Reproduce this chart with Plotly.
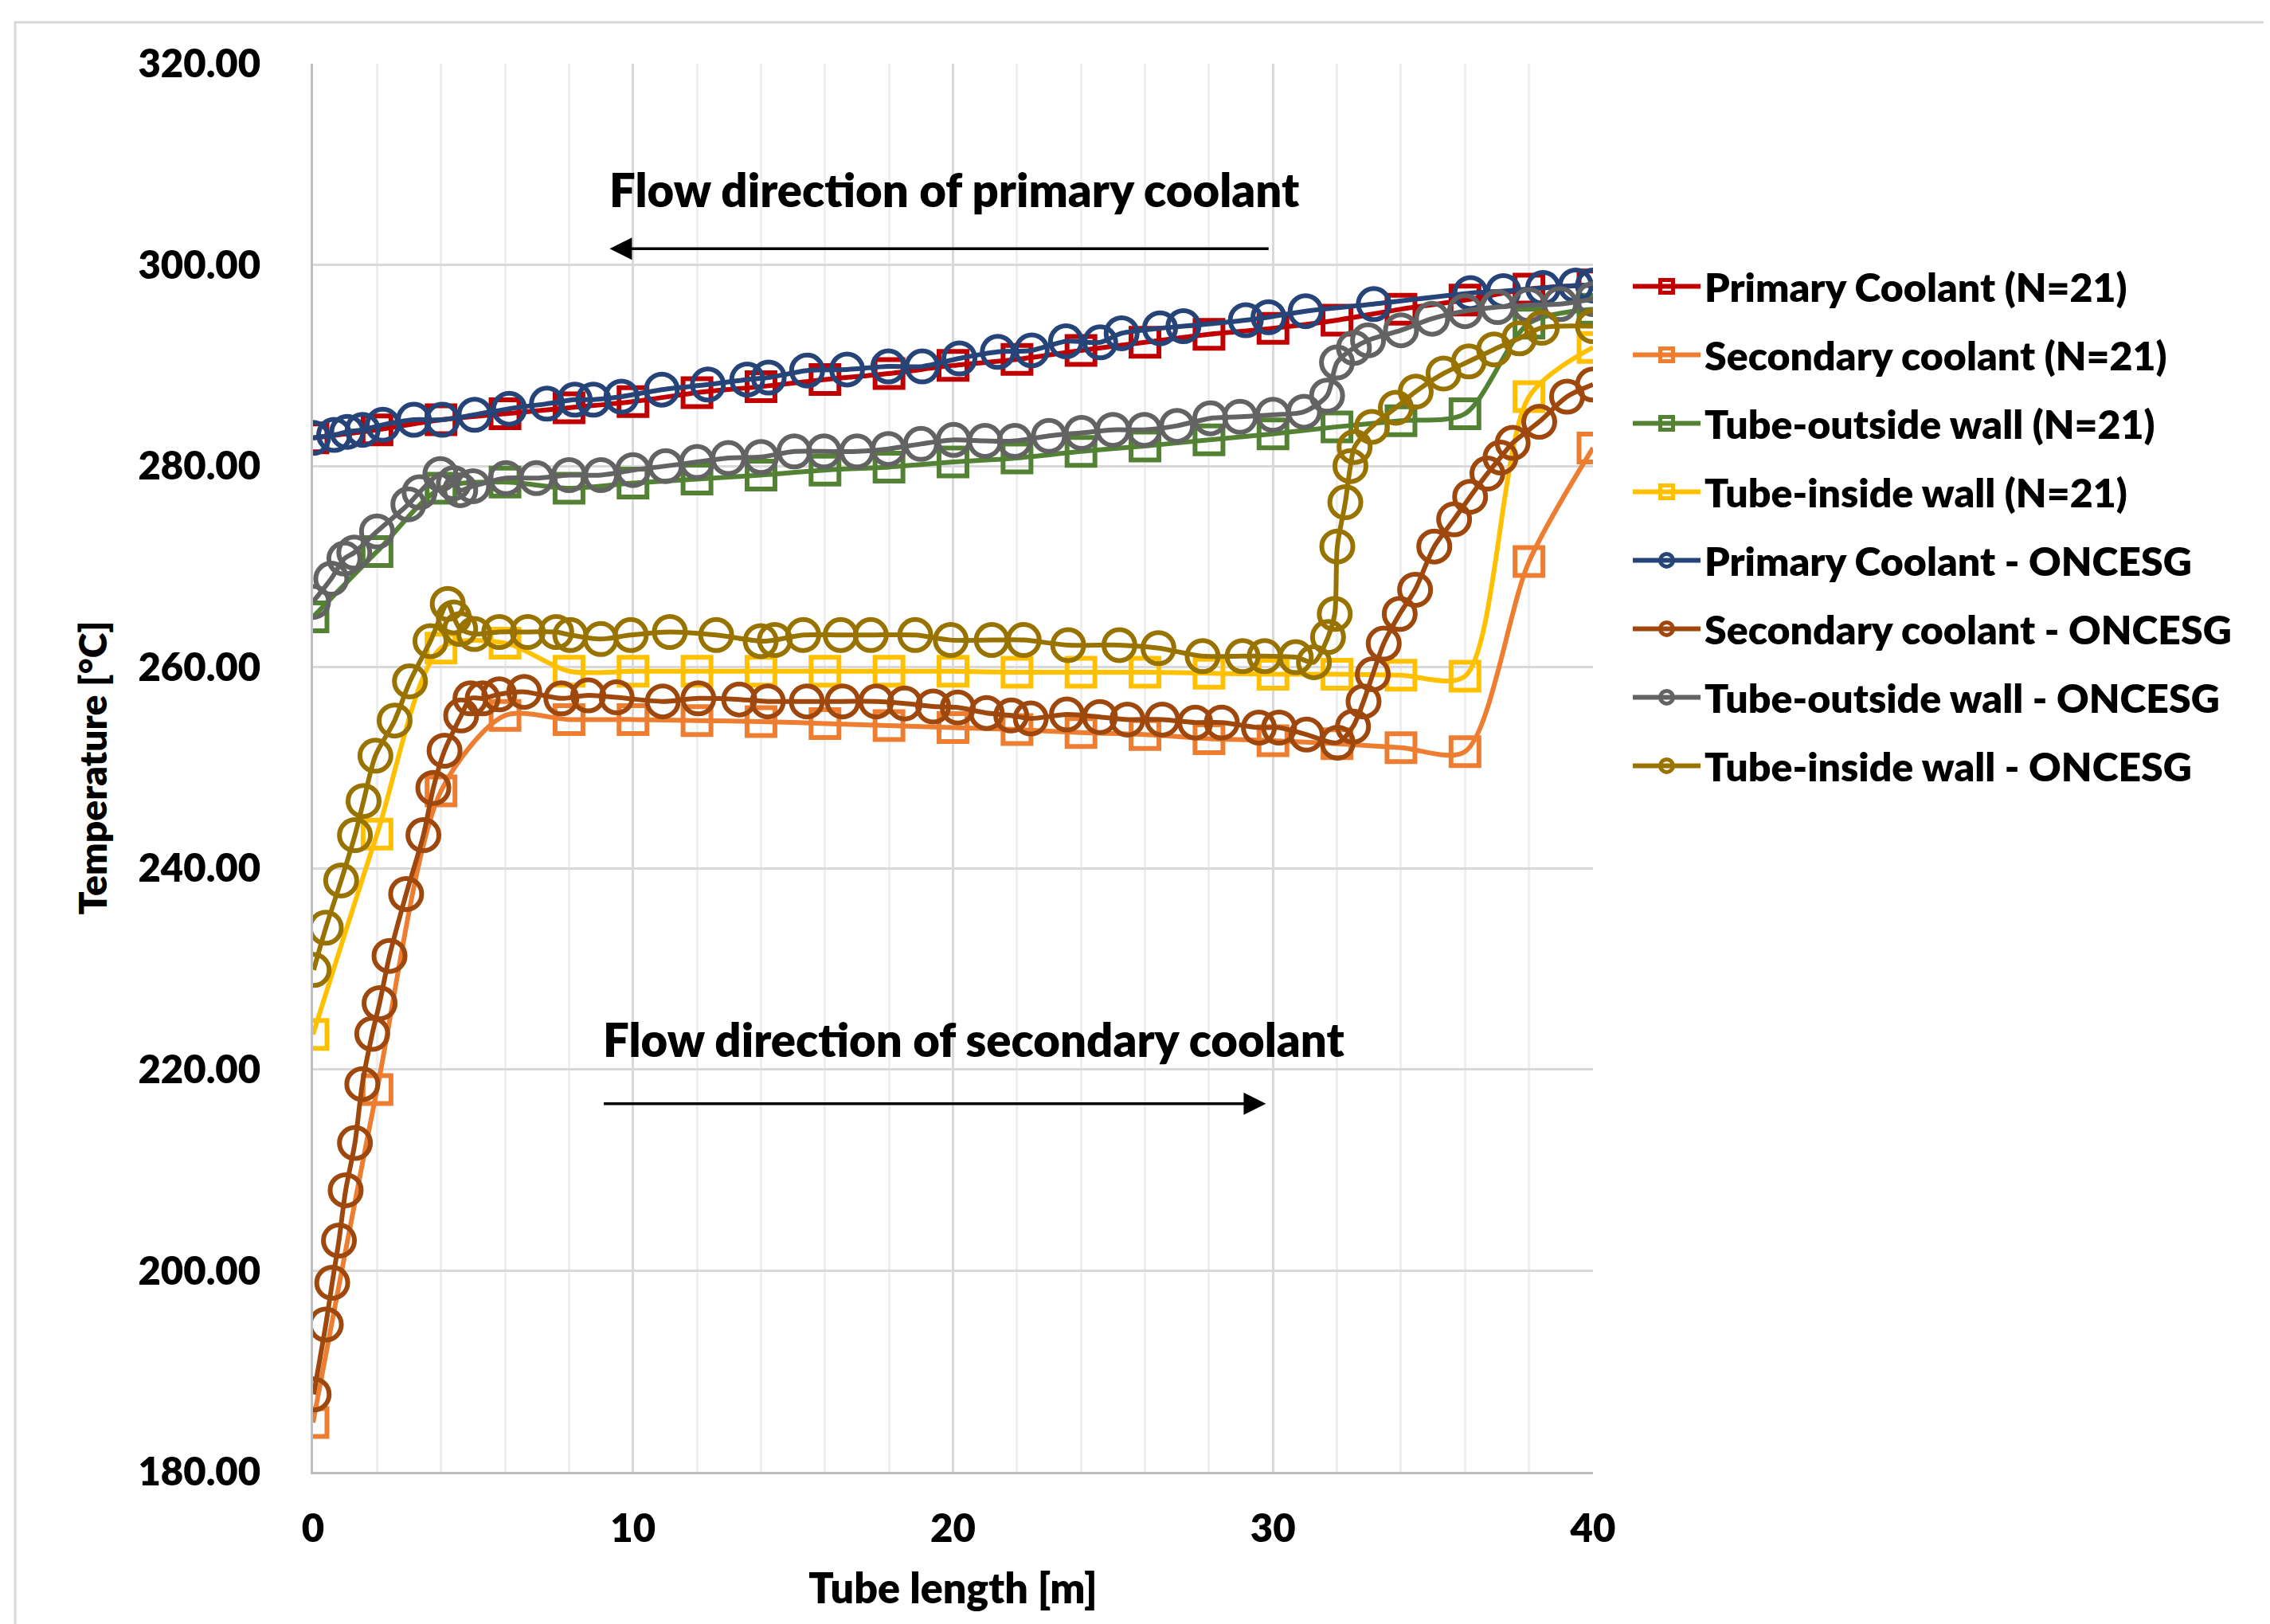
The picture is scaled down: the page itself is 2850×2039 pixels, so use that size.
import plotly.graph_objects as go

# ---------------- data ----------------
x_n21 = [0, 2, 4, 6, 8, 10, 12, 14, 16, 18, 20, 22, 24, 26, 28, 30, 32, 34, 36, 38, 40]
primary_n21 = [282.8, 283.6, 284.6, 285.2, 285.8, 286.4, 287.3, 287.9, 288.6, 289.2, 290.0,
               290.6, 291.5, 292.3, 293.1, 293.7, 294.5, 295.6, 296.5, 297.6, 298.0]
secondary_n21 = [184.9, 218.0, 247.7, 255.2, 254.8, 254.8, 254.7, 254.6, 254.4, 254.2, 254.0,
                 253.8, 253.5, 253.3, 252.9, 252.7, 252.4, 252.0, 251.6, 270.5, 281.8]
outer_n21 = [265.0, 271.5, 277.8, 278.4, 277.8, 278.3, 278.7, 279.1, 279.6, 279.9, 280.4,
             280.8, 281.45, 282.0, 282.6, 283.2, 283.9, 284.5, 285.2, 294.2, 295.6]
inner_n21 = [223.5, 243.4, 261.9, 262.4, 259.6, 259.6, 259.6, 259.6, 259.6, 259.6, 259.6,
             259.5, 259.5, 259.5, 259.4, 259.3, 259.3, 259.2, 259.1, 286.9, 291.8]

x_primary_onc = [0, 0.66, 1.07, 1.55, 2.18, 3.15, 4.04, 5.05, 6.13, 7.31, 8.18, 8.76, 9.64, 10.9,
                 12.34, 13.57, 14.24, 15.44, 16.69, 17.98, 19.04, 20.2, 21.4, 22.46, 23.53, 24.6,
                 25.27, 26.47, 27.2, 29.15, 29.86, 31.02, 33.15, 36.17, 37.2, 38.44, 39.46, 40.0]
primary_onc = [282.8, 283.1, 283.4, 283.6, 284.1, 284.6, 284.6, 285.1, 285.7, 286.2, 286.6, 286.6,
               286.9, 287.6, 288.1, 288.6, 288.8, 289.5, 289.6, 289.9, 289.9, 290.7, 291.35, 291.5,
               292.4, 292.3, 293.2, 293.7, 293.9, 294.5, 294.8, 295.4, 296.1, 297.2, 297.4, 297.7,
               297.95, 297.95]

x_secondary_onc = [0.02, 0.40, 0.6, 0.81, 1.02, 1.31, 1.54, 1.85, 2.08, 2.39, 2.91, 3.45, 3.76,
                   4.11, 4.63, 4.92, 5.3, 5.82, 6.6, 7.76, 8.6, 9.49, 10.93, 12.04, 13.32, 14.21,
                   15.43, 16.55, 17.6, 18.49, 19.38, 20.15, 21.05, 21.82, 22.43, 23.56, 24.59,
                   25.45, 26.54, 27.57, 28.4, 29.56, 30.19, 31.05, 32.02, 32.5, 32.83, 33.12,
                   33.46, 33.96, 34.44, 35.04, 35.66, 36.16, 36.7, 37.11, 37.49, 38.32, 39.19, 40.0]
secondary_onc = [187.7, 194.65, 198.8, 203.0, 208.0, 212.7, 218.55, 223.55, 226.6, 231.3, 237.45,
                 243.3, 248.0, 251.7, 255.2, 256.9, 256.9, 257.3, 257.55, 256.9, 257.2, 257.0,
                 256.6, 256.9, 256.8, 256.6, 256.6, 256.6, 256.6, 256.4, 256.1, 256.0, 255.45,
                 255.2, 254.9, 255.3, 255.05, 254.8, 254.8, 254.5, 254.5, 254.0, 254.0, 253.3,
                 252.5, 254.1, 256.6, 259.3, 262.35, 265.3, 267.7, 272.0, 274.7, 276.95, 279.25,
                 280.85, 282.3, 284.4, 286.9, 288.1]

x_outer_onc = [0, 0.57, 0.98, 1.29, 2.0, 2.98, 3.33, 3.98, 4.4, 4.6, 5.0, 6.03, 6.98, 8.0, 9.0,
               10.0, 11.02, 12.0, 12.98, 14.0, 15.04, 15.97, 17.0, 17.98, 19.0, 20.02, 21.0, 21.93,
               23.0, 24.02, 25.0, 25.98, 27.0, 28.04, 28.97, 30.0, 30.97, 31.69, 32.0, 32.53,
               32.97, 34.0, 34.97, 36.0, 37.02, 38.0, 38.97, 40.0]
outer_onc = [266.5, 268.8, 270.8, 271.4, 273.5, 276.2, 277.4, 279.2, 278.3, 277.6, 278.0, 278.8,
             278.8, 279.1, 279.1, 279.6, 280.0, 280.4, 280.8, 280.9, 281.45, 281.45, 281.45,
             281.7, 282.2, 282.6, 282.5, 282.5, 283.0, 283.3, 283.6, 283.6, 284.0, 284.75, 284.9,
             285.1, 285.4, 287.0, 290.3, 291.75, 292.5, 293.5, 294.65, 295.4, 295.8, 296.0,
             296.1, 296.6]

x_inner_onc = [0.02, 0.4, 0.88, 1.31, 1.58, 1.95, 2.55, 3.03, 3.67, 4.21, 4.4, 4.6, 5.04, 5.82,
               6.71, 7.6, 8.04, 8.99, 9.93, 11.15, 12.6, 13.99, 14.43, 15.32, 16.49, 17.43, 18.82,
               19.93, 21.21, 22.21, 23.6, 25.2, 26.42, 27.8, 29.05, 29.74, 30.71, 31.28, 31.72,
               31.93, 32.01, 32.26, 32.42, 32.55, 33.09, 33.84, 34.46, 35.33, 36.12, 36.91, 37.7,
               38.4, 40.0]
inner_onc = [229.9, 234.1, 238.8, 243.3, 246.7, 251.2, 254.7, 258.6, 262.6, 266.3, 264.95, 263.8,
             263.3, 263.5, 263.5, 263.5, 263.2, 262.8, 263.2, 263.5, 263.2, 262.6, 262.7, 263.2,
             263.2, 263.2, 263.2, 262.7, 262.7, 262.7, 262.2, 262.2, 261.9, 261.1, 261.1, 261.1,
             261.0, 260.5, 263.0, 265.3, 272.0, 276.4, 280.0, 281.9, 283.9, 285.8, 287.4, 289.2,
             290.4, 291.6, 292.7, 293.75, 293.9]

series = [
    ("Primary Coolant (N=21)", x_n21, primary_n21, "#C00000", "square-open"),
    ("Secondary coolant (N=21)", x_n21, secondary_n21, "#ED7D31", "square-open"),
    ("Tube-outside wall (N=21)", x_n21, outer_n21, "#548235", "square-open"),
    ("Tube-inside wall (N=21)", x_n21, inner_n21, "#FFC000", "square-open"),
    ("Primary Coolant - ONCESG", x_primary_onc, primary_onc, "#264478", "circle-open"),
    ("Secondary coolant - ONCESG", x_secondary_onc, secondary_onc, "#9E480E", "circle-open"),
    ("Tube-outside wall - ONCESG", x_outer_onc, outer_onc, "#636363", "circle-open"),
    ("Tube-inside wall - ONCESG", x_inner_onc, inner_onc, "#997300", "circle-open"),
]

FONT = "Lato"
W = 800

fig = go.Figure()
for i, (name, xs, ys, col, sym) in enumerate(series):
    fig.add_trace(go.Scatter(
        x=xs, y=ys, name=name, mode="lines+markers",
        legendgroup=f"g{i}",
        line=dict(color=col, width=6, shape="spline", smoothing=0.8),
        marker=dict(symbol=sym, size=35 if sym.startswith("square") else 39,
                    color=col, line=dict(color=col, width=6)),
    ))

fig.update_layout(
    width=2850, height=2039,
    paper_bgcolor="white", plot_bgcolor="white",
    margin=dict(l=385, r=858, t=72, b=199),
    font=dict(family=FONT, size=49, color="black", weight=W),
    showlegend=True,
    legend=dict(
        x=1.028, y=0.864, xanchor="left", yanchor="top",
        font=dict(family=FONT, size=50, color="black", weight=W),
        tracegroupgap=18, itemwidth=85, itemsizing="trace",
        bgcolor="rgba(0,0,0,0)",
    ),
    xaxis=dict(
        range=[0, 40], dtick=10, tick0=0,
        showgrid=True, gridcolor="#D9D9D9", gridwidth=3,
        minor=dict(dtick=2, showgrid=True, gridcolor="#EFEFEF", gridwidth=3),
        showline=True, linecolor="#BFBFBF", linewidth=3,
        ticks="", ticklabelstandoff=26, zeroline=False,
        tickfont=dict(family=FONT, size=49, color="black", weight=W),
        title=dict(text="Tube length [m]", standoff=32,
                   font=dict(family=FONT, size=52, color="black", weight=W)),
    ),
    yaxis=dict(
        range=[180, 320], dtick=20, tick0=180, tickformat=".2f",
        showgrid=True, gridcolor="#D9D9D9", gridwidth=3,
        showline=True, linecolor="#BFBFBF", linewidth=3,
        ticks="", ticklabelstandoff=53, zeroline=False,
        tickfont=dict(family=FONT, size=49, color="black", weight=W),
        title=dict(text="Temperature [°C]", standoff=24,
                   font=dict(family=FONT, size=48, color="black", weight=W)),
    ),
)

# outer chart-area frame
fig.add_shape(type="rect", xref="paper", yref="paper",
              x0=-0.2327, x1=1.56, y0=-0.12, y1=1.0294,
              line=dict(color="#D9D9D9", width=3), fillcolor="rgba(0,0,0,0)", layer="below")

# flow direction annotations
fig.add_annotation(x=9.2, y=307.5, xref="x", yref="y", xanchor="left", yanchor="middle",
                   text="Flow direction of primary coolant", showarrow=False,
                   font=dict(family=FONT, size=58, color="black", weight=W))
fig.add_annotation(x=9.27, y=301.6, ax=29.9, ay=301.6, xref="x", yref="y", axref="x", ayref="y",
                   text="", showarrow=True, arrowhead=2, arrowsize=1.6, arrowwidth=3.5,
                   arrowcolor="black")
fig.add_annotation(x=9.0, y=223.0, xref="x", yref="y", xanchor="left", yanchor="middle",
                   text="Flow direction of secondary coolant", showarrow=False,
                   font=dict(family=FONT, size=58, color="black", weight=W))
fig.add_annotation(x=29.78, y=216.6, ax=9.05, ay=216.6, xref="x", yref="y", axref="x", ayref="y",
                   text="", showarrow=True, arrowhead=2, arrowsize=1.6, arrowwidth=3.5,
                   arrowcolor="black")

fig.write_html("out.html")
